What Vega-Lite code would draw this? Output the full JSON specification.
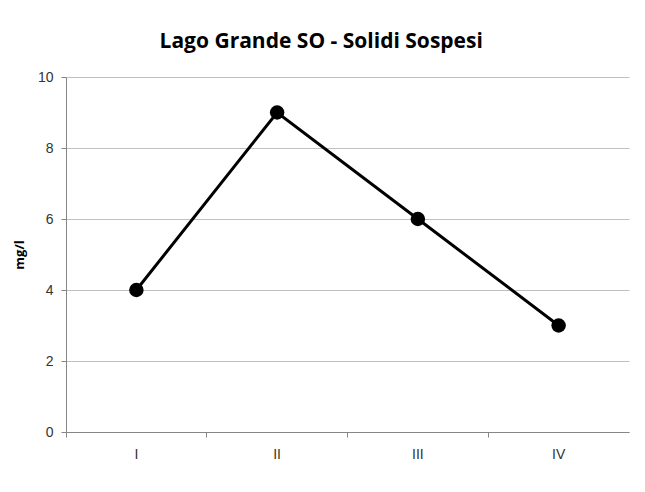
{
  "$schema": "https://vega.github.io/schema/vega-lite/v6.json",
  "autosize": "none",
  "width": 563,
  "height": 355,
  "padding": {"left": 66, "top": 77, "right": 16, "bottom": 60},
  "background": "white",
  "title": {
    "text": "Lago Grande SO - Solidi Sospesi",
    "font": "Open Sans",
    "fontSize": 21,
    "fontWeight": "bold",
    "color": "#000000",
    "anchor": "middle",
    "frame": "bounds",
    "offset": 18
  },
  "data": {
    "values": [
      {"periodo": "I", "valore": 4},
      {"periodo": "II", "valore": 9},
      {"periodo": "III", "valore": 6},
      {"periodo": "IV", "valore": 3}
    ]
  },
  "config": {
    "view": {"stroke": null},
    "axis": {
      "labelFont": "Liberation Sans",
      "labelFontSize": 14,
      "labelColor": "#333333",
      "domainColor": "#868686",
      "tickColor": "#868686",
      "gridColor": "#c0c0c0",
      "titleFont": "Open Sans"
    }
  },
  "mark": {
    "type": "line",
    "color": "black",
    "strokeWidth": 3,
    "point": {"filled": true, "size": 210, "color": "black"}
  },
  "encoding": {
    "x": {
      "field": "periodo",
      "type": "ordinal",
      "sort": ["I", "II", "III", "IV"],
      "scale": {"type": "band", "paddingInner": 0, "paddingOuter": 0},
      "axis": {
        "title": null,
        "labelAngle": 0,
        "bandPosition": 0,
        "tickSize": 5,
        "labelPadding": 10,
        "grid": false
      }
    },
    "y": {
      "field": "valore",
      "type": "quantitative",
      "scale": {"domain": [0, 10]},
      "axis": {
        "title": "mg/l",
        "titleFontSize": 13,
        "titleFontWeight": "bold",
        "titleColor": "#000000",
        "titlePadding": 11,
        "values": [0, 2, 4, 6, 8, 10],
        "tickSize": 5,
        "labelPadding": 8,
        "grid": true
      }
    }
  }
}
